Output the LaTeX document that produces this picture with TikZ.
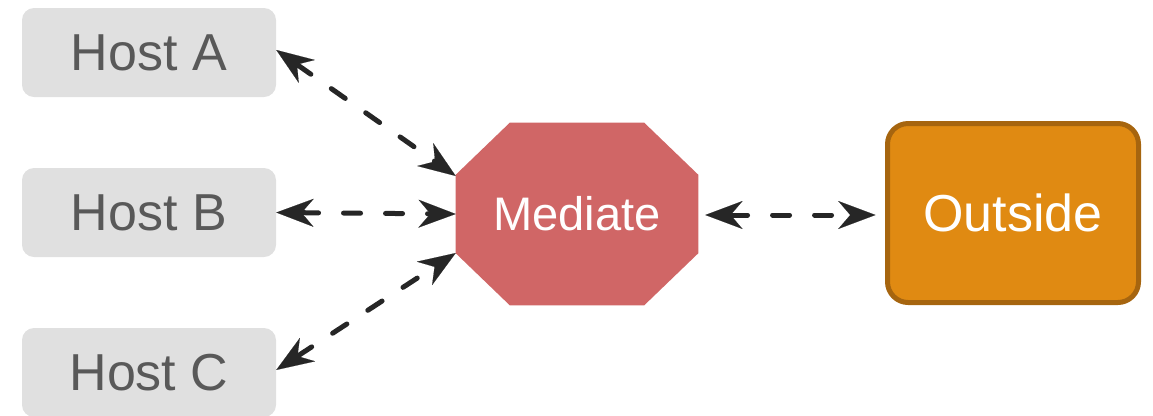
\documentclass[tikz,border=0pt]{standalone}
\usepackage{fontspec}
\setmainfont{Liberation Sans}
\usetikzlibrary{arrows.meta,backgrounds}
\definecolor{hostfill}{HTML}{E0E0E0}
\definecolor{hosttext}{HTML}{595959}
\definecolor{medfill}{HTML}{D06666}
\definecolor{outfill}{HTML}{E08A12}
\definecolor{outdraw}{HTML}{A6650F}
\definecolor{linkcol}{HTML}{262626}
\begin{document}
\begin{tikzpicture}[x=0.75pt,y=-0.75pt,
  host/.style={rectangle, rounded corners=9pt, fill=hostfill, text=hosttext,
    minimum width=190.5pt, minimum height=66.75pt, inner sep=0pt,
    font=\fontsize{39}{39}\selectfont},
  mediate/.style={rectangle, text=white,
    minimum width=181.5pt, minimum height=136.5pt, inner sep=0pt,
    font=\fontsize{35.3}{35.3}\selectfont},
  outside/.style={rectangle, rounded corners=15.5pt, fill=outfill, draw=outdraw,
    line width=3.75pt, text=white, minimum width=188.25pt, minimum height=134.25pt,
    inner sep=0pt, font=\fontsize{39}{39}\selectfont},
  link/.style={draw=linkcol, line width=3.75pt, line cap=round,
    dash pattern=on 12.75pt off 18.75pt, {Stealth[length=28pt, width=21pt, inset=9pt, line width=0.1pt]}-{Stealth[length=28pt, width=21pt, inset=9pt, line width=0.1pt]}}
]
\useasboundingbox (0,0) rectangle (1153,415);
\node[host] (hA) at (149,52.5) {Host A};
\node[host] (hB) at (149,212.5) {Host B};
\node[host] (hC) at (149,372.5) {Host C};
\node[mediate] (med) at (577,214) {Mediate};
\begin{scope}[on background layer]
\fill[medfill] ([xshift=40.5pt]med.north west) -- ([xshift=-40.5pt]med.north east)
  -- ([yshift=-39pt]med.north east) -- ([yshift=39pt]med.south east)
  -- ([xshift=-40.5pt]med.south east) -- ([xshift=40.5pt]med.south west)
  -- ([yshift=39pt]med.south west) -- ([yshift=-39pt]med.north west) -- cycle;
\end{scope}
\node[outside] (out) at (1013,213) {Outside};
\draw[link] ([yshift=1.9pt]hA.east) -- ([yshift=28.5pt]med.west);
\draw[link] (hB.east) -- (med.west);
\draw[link] ([yshift=1.9pt]hC.east) -- ([yshift=-29.25pt]med.west);
\draw[link] ([xshift=5.25pt,yshift=-0.75pt]med.east) -- ([xshift=-7.1pt,yshift=-1.5pt]out.west);
\end{tikzpicture}
\end{document}
